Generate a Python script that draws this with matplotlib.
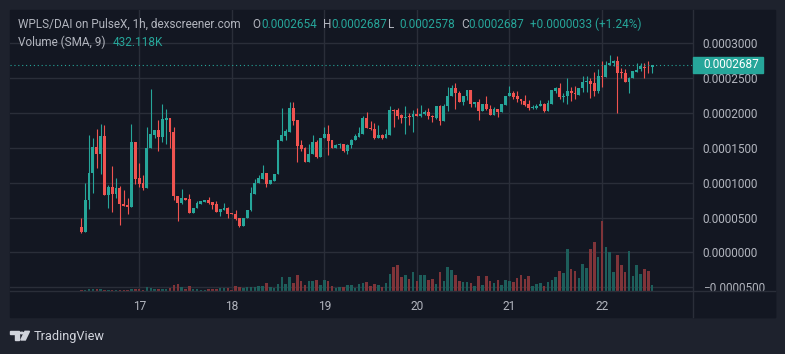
import numpy as np
import matplotlib
matplotlib.use("Agg")
import matplotlib.pyplot as plt
from matplotlib.patches import Rectangle, Polygon, Circle
from matplotlib.lines import Line2D

plt.rcParams['font.family'] = ['Roboto', 'DejaVu Sans']

# hourly candles of WPLS/DAI, prices in units of 1e-7 DAI
start_day = 16
start_hour = 9

opens = [359, 298, 747, 1144, 1513, 1414, 1669, 823, 931, 832,
         917, 690, 676, 648, 1584, 1069, 1002, 917, 1499, 1684,
         1754, 1660, 1901, 1925, 1731, 808, 704, 785, 761, 567,
         643, 695, 723, 747, 719, 690, 581, 605, 633, 567,
         558, 492, 383, 501, 605, 832, 993, 1059, 1144, 974,
         1031, 1130, 1603, 1674, 1731, 2067, 1896, 1542, 1494, 1291,
         1414, 1589, 1367, 1641, 1698, 1613, 1499, 1537, 1556, 1461,
         1542, 1613, 1660, 1698, 1925, 1778, 1775, 1634, 1690, 1642,
         1680, 2035, 2035, 1964, 1926, 1955, 1940, 1988, 1955, 1988,
         2007, 1960, 1926, 2092, 1879, 2092, 2235, 2353, 2291, 2163,
         2244, 2334, 2121, 2149, 2026, 2121, 2059, 1969, 2050, 2012,
         2111, 2249, 2291, 2235, 2192, 2168, 2121, 2064, 2073, 2102,
         2121, 2031, 2130, 2320, 2353, 2230, 2244, 2320, 2291, 2263,
         2353, 2448, 2462, 2429, 2310, 2533, 2519, 2690, 2708, 2737,
         2576, 2576, 2438, 2495, 2590, 2628, 2661, 2661, 2654]
highs = [501, 1002, 1683, 1636, 1769, 1835, 1825, 960, 1244, 1069,
         946, 889, 775, 1840, 1584, 1286, 1116, 1797, 2336, 1760,
         1896, 2123, 2052, 1925, 1797, 808, 903, 785, 832, 643,
         737, 733, 747, 790, 719, 737, 619, 704, 652, 567,
         615, 501, 501, 615, 931, 1059, 1116, 1258, 1144, 1045,
         1130, 1613, 2067, 1769, 2152, 2152, 1896, 1608, 1510, 1551,
         1683, 1608, 1641, 1797, 1825, 1613, 1556, 1570, 1556, 1556,
         1627, 1698, 1797, 1953, 2010, 1880, 1855, 1822, 1700, 1765,
         2092, 2059, 2073, 1988, 2092, 1998, 2045, 2073, 2106, 2045,
         2073, 1974, 2092, 2120, 2130, 2377, 2405, 2424, 2320, 2244,
         2334, 2334, 2149, 2192, 2121, 2249, 2106, 2083, 2050, 2121,
         2249, 2391, 2320, 2320, 2206, 2253, 2178, 2111, 2121, 2178,
         2140, 2178, 2334, 2377, 2434, 2282, 2505, 2377, 2391, 2362,
         2533, 2533, 2505, 2590, 2630, 2746, 2737, 2832, 2760, 2817,
         2642, 2633, 2510, 2604, 2718, 2708, 2708, 2746, 2687]
lows = [279, 298, 619, 856, 1211, 1125, 823, 638, 581, 785,
        397, 660, 548, 648, 974, 936, 889, 917, 1490, 1640,
        1461, 1589, 1561, 1494, 752, 454, 690, 747, 567, 560,
        634, 695, 723, 690, 619, 581, 525, 605, 496, 553,
        468, 369, 383, 501, 591, 832, 993, 1059, 936, 974,
        1031, 1130, 1603, 1613, 1731, 1825, 1291, 1461, 1291, 1291,
        1414, 1352, 1367, 1641, 1390, 1499, 1499, 1499, 1433, 1405,
        1499, 1613, 1660, 1698, 1778, 1750, 1624, 1634, 1632, 1642,
        1680, 1799, 1907, 1855, 1694, 1822, 1727, 1955, 1940, 1964,
        1907, 1870, 1917, 1822, 1879, 2026, 2235, 2050, 2154, 2106,
        2187, 2083, 2083, 1893, 2026, 2036, 1969, 1969, 1936, 2012,
        2111, 2249, 2197, 2154, 2130, 2097, 2035, 2059, 2059, 2092,
        2007, 2031, 2130, 2291, 2192, 2163, 2130, 2173, 2202, 2253,
        2305, 2305, 2220, 2240, 2287, 2377, 2519, 2690, 2670, 1998,
        2500, 2438, 2282, 2495, 2590, 2604, 2495, 2571, 2578]
closes = [298, 747, 1144, 1513, 1414, 1669, 823, 931, 832, 917,
          690, 660, 648, 1584, 1059, 988, 917, 1499, 1698, 1754,
          1660, 1911, 1925, 1731, 808, 709, 785, 747, 567, 643,
          704, 733, 747, 704, 681, 581, 619, 633, 553, 553,
          477, 383, 501, 615, 846, 1002, 1069, 1144, 974, 1045,
          1130, 1613, 1684, 1740, 2067, 1887, 1532, 1485, 1291, 1414,
          1589, 1367, 1641, 1698, 1603, 1499, 1542, 1556, 1461, 1542,
          1613, 1674, 1712, 1925, 1778, 1770, 1634, 1690, 1642, 1694,
          2035, 2021, 1955, 1926, 1940, 1940, 1988, 1955, 1988, 2007,
          1955, 1940, 2092, 1879, 2092, 2235, 2353, 2282, 2163, 2244,
          2334, 2121, 2149, 2026, 2121, 2050, 1969, 2050, 2012, 2121,
          2249, 2291, 2225, 2192, 2168, 2116, 2064, 2083, 2102, 2121,
          2031, 2140, 2334, 2353, 2230, 2244, 2320, 2282, 2268, 2362,
          2448, 2462, 2415, 2310, 2533, 2519, 2690, 2708, 2737, 2566,
          2566, 2438, 2495, 2595, 2618, 2675, 2642, 2651, 2687]
# volume in thousands
volumes = [20, 20, 41, 41, 41, 41, 20, 20, 20, 20,
           20, 20, 20, 41, 41, 41, 20, 82, 61, 41,
           41, 41, 41, 61, 122, 143, 82, 41, 102, 41,
           41, 20, 20, 41, 41, 41, 61, 61, 61, 20,
           102, 82, 61, 82, 82, 82, 102, 102, 163, 82,
           61, 143, 286, 143, 286, 163, 326, 204, 122, 204,
           204, 224, 122, 224, 204, 102, 61, 82, 82, 122,
           122, 61, 143, 163, 184, 102, 143, 122, 82, 163,
           347, 490, 530, 286, 326, 245, 388, 204, 326, 326,
           224, 245, 143, 388, 204, 490, 428, 326, 204, 184,
           184, 163, 102, 306, 122, 306, 204, 163, 224, 122,
           224, 204, 184, 265, 326, 245, 306, 102, 143, 163,
           102, 184, 224, 286, 408, 367, 857, 449, 408, 265,
           551, 469, 857, 1000, 694, 1428, 898, 796, 388, 734,
           530, 388, 816, 306, 530, 347, 449, 408, 122]

price_ticks = [-500, 0, 500, 1000, 1500, 2000, 2500, 3000]

# colours
BG = '#1e222d'
PANEL = '#131722'
GRID = '#2a2e39'
TXT = '#b2b5be'
UP = '#26a69a'
DOWN = '#ef5350'
UP_VOL = '#1d5e5b'
DOWN_VOL = '#7f3439'

o = np.array(opens) * 1e-7
h = np.array(highs) * 1e-7
l = np.array(lows) * 1e-7
c = np.array(closes) * 1e-7
idx = np.arange(len(c))
up = c >= o
cols = np.where(up, UP, DOWN)
vcols = np.where(up, UP_VOL, DOWN_VOL)

hours = start_hour + idx
day_idx = idx[hours % 24 == 0]
day_lbl = [str(start_day + hh // 24) for hh in hours[hours % 24 == 0]]

W, H = 785, 354
fig = plt.figure(figsize=(W / 100, H / 100), dpi=100, facecolor=BG)


def fx(px):
    return px / W


def fy(py):
    return 1 - py / H


# panel background
fig.patches.append(Rectangle((fx(10), fy(317)), fx(775) - fx(10), fy(10) - fy(317),
                             transform=fig.transFigure, color=PANEL, zorder=-1))

rect = [fx(10), fy(291), fx(693) - fx(10), fy(10) - fy(291)]
axv = fig.add_axes(rect)
ax = fig.add_axes(rect)
for a in (axv, ax):
    a.patch.set_visible(False)
    for s in a.spines.values():
        s.set_visible(False)

xlim = (-18.5, 158.6)
ylim = (-0.0000552, 0.0003474)
ax.set_xlim(xlim)
ax.set_ylim(ylim)
axv.set_xlim(xlim)
axv.set_ylim(0, 5730)
axv.set_xticks([])
axv.set_yticks([])

# grid in the back axes
for d in day_idx:
    axv.axvline(d, color=GRID, lw=1.0, zorder=0)
for p in price_ticks:
    axv.add_line(Line2D([0, 1], [p * 1e-7, p * 1e-7], transform=ax.get_yaxis_transform(),
                        color=GRID, lw=1.0, zorder=0))

# volume
axv.bar(idx, volumes, width=0.65, color=vcols, linewidth=0, zorder=2)

# candles
ax.vlines(idx, l, h, colors=cols, lw=0.8, zorder=3)
body_lo = np.minimum(o, c)
body_h = np.maximum(np.abs(c - o), 1.3e-6)
ax.bar(idx, body_h, bottom=body_lo, width=0.74, color=cols, linewidth=0, zorder=4)

# last price line
last = c[-1]
ax.axhline(last, color=UP, lw=0.8, ls=(0, (1, 2.5)), zorder=5)

ax.yaxis.tick_right()
ax.set_yticks([p * 1e-7 for p in price_ticks])
ax.set_yticklabels([f"{p * 1e-7:.7f}".replace('-', '\u2212') for p in price_ticks])
ax.tick_params(axis='y', length=0, pad=7.0, labelsize=8.5, labelcolor=TXT)
ax.set_xticks(day_idx)
ax.set_xticklabels(day_lbl)
ax.tick_params(axis='x', length=0, pad=6.5, labelsize=8.6, labelcolor=TXT)

# corner under the price scale
fig.patches.append(Rectangle((fx(693), fy(317)), fx(775) - fx(693), fy(291) - fy(317),
                             transform=fig.transFigure, color=PANEL, zorder=1))
fig.lines.append(Line2D([fx(693), fx(693)], [fy(10), fy(317)], transform=fig.transFigure,
                        color=GRID, lw=1.0, zorder=2))
fig.lines.append(Line2D([fx(10), fx(775)], [fy(291), fy(291)], transform=fig.transFigure,
                        color=GRID, lw=1.0, zorder=2))

# current price tag
ypix = ax.transData.transform((0, last))[1]
yf = ypix / H
fig.patches.append(Rectangle((fx(692.7), yf - 8.3 / H), (763.3 - 692.7) / W, 16.7 / H,
                             transform=fig.transFigure, color=UP, zorder=3))
fig.text(fx(703), yf, f"{last:.7f}", color='white', fontsize=8.5, va='center', ha='left',
         zorder=4)

# legend lines at the top
hs = 8.5
fig.text(fx(18), fy(24), "WPLS/DAI on PulseX, 1h, dexscreener.com", color=TXT, fontsize=hs,
         va='center')
parts = [(252.3, "O", TXT), (261.5, f"{o[-1]:.7f}", UP),
         (322.7, "H", TXT), (331, f"{h[-1]:.7f}", UP),
         (387.7, "L", TXT), (399.5, f"{l[-1]:.7f}", UP),
         (461.7, "C", TXT), (468.5, f"{c[-1]:.7f}", UP),
         (530, "+0.0000033 (+1.24%)", UP)]
for x, s, col in parts:
    fig.text(fx(x), fy(24), s, color=col, fontsize=hs, va='center')
fig.text(fx(18), fy(42.7), "Volume (SMA, 9)", color=TXT, fontsize=hs, va='center')
fig.text(fx(113), fy(42.7), "432.118K", color=UP, fontsize=hs, va='center')

# TradingView mark
LOGO = '#d1d4dc'
fig.patches.append(Polygon([(fx(10), fy(331.3)), (fx(19.3), fy(331.3)), (fx(19.3), fy(340)),
                            (fx(14.7), fy(340)), (fx(14.7), fy(334.3)), (fx(10), fy(334.3))],
                           closed=True, transform=fig.transFigure, color=LOGO, zorder=3))
fig.patches.append(Circle((fx(21.8), fy(333)), 1.7 / W, transform=fig.transFigure,
                          color=LOGO, zorder=3))
fig.patches.append(Polygon([(fx(25), fy(331.3)), (fx(29.5), fy(331.3)), (fx(25.3), fy(340)),
                            (fx(20.8), fy(340))],
                           closed=True, transform=fig.transFigure, color=LOGO, zorder=3))
fig.text(fx(33.5), fy(336.5), "TradingView", color=LOGO, fontsize=9.2, va='center')

fig.savefig("out.png", dpi=100, facecolor=BG)
